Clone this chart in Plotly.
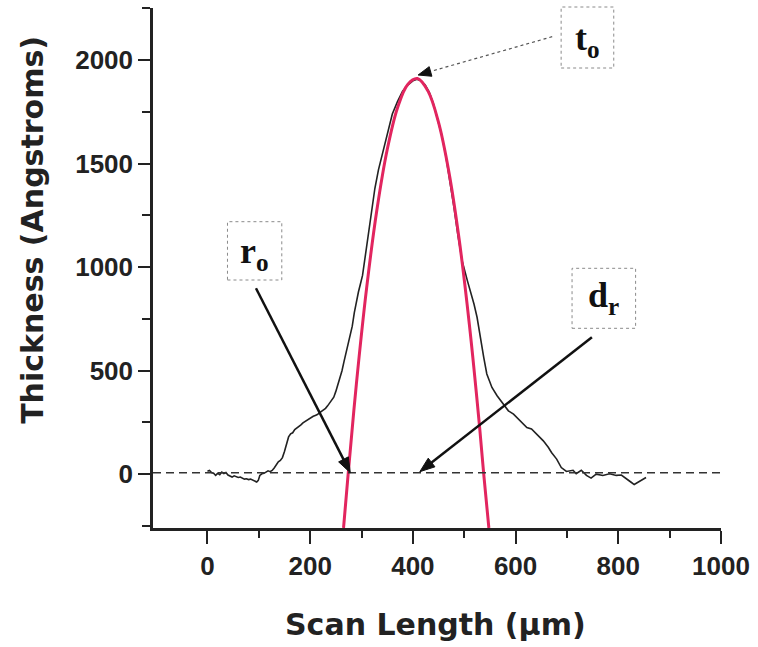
import math
import plotly.graph_objects as go

# ---- data ----
scan_x = [0, 4, 8, 12, 16, 20, 24, 28, 32, 36, 40, 44, 48, 52, 56, 60, 64, 68, 72, 76,
          80, 84, 88, 92, 96, 99, 102, 106, 110, 114, 118, 122, 126, 130, 134, 138, 142, 146,
          150, 154, 158, 162, 166, 170, 174, 178, 182, 186, 190, 194, 198, 202, 206, 210, 214,
          218, 222, 226, 230, 234, 238, 242, 246, 250, 254, 258, 262, 266, 270, 274, 278, 282,
          286, 290, 294, 298, 302, 306, 312, 319, 326, 333, 340, 350, 360, 370, 380, 390, 400,
          408, 416, 424, 432, 440, 448, 456, 464, 472, 480, 488, 496, 506, 512, 519, 525, 531,
          538, 544, 554, 564, 577, 586, 596, 609, 622, 631, 641, 654, 664, 670, 680, 689, 699,
          706, 712, 718, 728, 738, 747, 757, 770, 783, 796, 806, 815, 825, 831, 838, 848, 854]
thickness = [14, 18, 8, 5, -6, 4, -2, 10, 3, 8, -4, -10, -14, -8, -12, -16, -14, -20, -24, -22,
             -26, -24, -30, -34, -38, -30, -6, 2, 4, 10, 16, 12, 18, 30, 44, 60, 66, 80,
             110, 150, 180, 195, 200, 215, 222, 232, 238, 248, 255, 258, 268, 272, 280, 284, 288,
             296, 302, 310, 318, 330, 345, 355, 372, 400, 432, 462, 500, 545, 590, 635, 670, 715,
             780, 840, 880, 920, 960, 1030, 1140, 1260, 1380, 1470, 1540, 1650, 1740, 1800, 1850, 1880, 1900,
             1908, 1900, 1880, 1845, 1790, 1720, 1640, 1540, 1420, 1290, 1150, 1030, 936, 887, 822, 758, 661,
             564, 484, 419, 379, 339, 306, 290, 258, 225, 218, 193, 161, 129, 105, 73, 32, 13,
             16, 19, 2, 19, -6, -19, 0, -6, 2, -6, -4, -19, -39, -50, -39, -23, -16]

fit_x = [265, 274, 290, 310, 330, 350, 370, 390, 409, 430, 450, 470, 490, 510, 530, 538, 548]
fit_y = [-260, 0, 435, 900, 1277, 1567, 1769, 1883, 1911, 1848, 1699, 1462, 1137, 724, 226, 0, -260]

baseline_y = 7
x_range = [-106, 1000]
y_range = [-260, 2252]
x_tickvals = [0, 200, 400, 600, 800, 1000]
y_tickvals = [0, 500, 1000, 1500, 2000]

# ---- layout geometry (pixels) ----
W, H = 758, 647
L, R, T, B = 153, 33, 8, 119
PW, PH = W - L - R, H - T - B


def fx(p):
    return (p - L) / PW


def fy(p):
    return (T + PH - p) / PH


def arrow(tail, tip, head_len, head_w, width, dash="solid", color="#111111"):
    dx, dy = tip[0] - tail[0], tip[1] - tail[1]
    n = math.hypot(dx, dy)
    ux, uy = dx / n, dy / n
    bx, by = tip[0] - ux * head_len, tip[1] - uy * head_len
    px_, py_ = -uy, ux
    p1 = (bx + px_ * head_w / 2, by + py_ * head_w / 2)
    p2 = (bx - px_ * head_w / 2, by - py_ * head_w / 2)
    line = dict(type="line", xref="paper", yref="paper",
                x0=fx(tail[0]), y0=fy(tail[1]), x1=fx(bx + ux * 2), y1=fy(by + uy * 2),
                line=dict(color=color, width=width, dash=dash))
    path = "M {:.5f} {:.5f} L {:.5f} {:.5f} L {:.5f} {:.5f} Z".format(
        fx(tip[0]), fy(tip[1]), fx(p1[0]), fy(p1[1]), fx(p2[0]), fy(p2[1]))
    head = dict(type="path", xref="paper", yref="paper", path=path,
                fillcolor="#111111", line=dict(color="#111111", width=1))
    return [line, head]


fig = go.Figure()
fig.add_trace(go.Scatter(x=scan_x, y=thickness, mode="lines",
                         line=dict(color="#222222", width=1.6), showlegend=False))
fig.add_trace(go.Scatter(x=fit_x, y=fit_y, mode="lines",
                         line=dict(color="#e2255f", width=3, shape="spline", smoothing=1.0),
                         showlegend=False))

shapes = [
    dict(type="line", xref="paper", x0=0, x1=1, yref="y", y0=baseline_y, y1=baseline_y,
         line=dict(color="#333333", width=1.5, dash="8px,5px")),
]
shapes += arrow((256.7, 288.3), (351.7, 472.7), 15, 11, 2.5)
shapes += arrow((595, 337.3), (421.7, 471.7), 15, 11, 2.5)
shapes += arrow((555, 36.7), (420, 75), 13, 10, 1.2, dash="dot", color="#555555")

boxes = [(564, 7, 617, 68), (228, 221.7, 282.7, 280), (575, 268.3, 639, 328.3)]
for (x0, y0, x1, y1) in boxes:
    shapes.append(dict(type="rect", xref="paper", yref="paper", x0=fx(x0), x1=fx(x1),
                       y0=fy(y1), y1=fy(y0), line=dict(color="#8a8a8a", width=1, dash="dot")))

lab_font = dict(family="Liberation Serif, Times New Roman, serif", size=36, color="#111111")
title_font = dict(family="DejaVu Sans, Liberation Sans, Arial, sans-serif", size=30,
                  color="#222222", weight="bold")
annotations = [
    dict(text="<b>t</b><sub><b>o</b></sub>", x=fx(590.5), y=fy(40), xref="paper", yref="paper",
         showarrow=False, font=lab_font, xanchor="center", yanchor="middle"),
    dict(text="<b>r</b><sub><b>o</b></sub>", x=fx(255.5), y=fy(253), xref="paper", yref="paper",
         showarrow=False, font=lab_font, xanchor="center", yanchor="middle"),
    dict(text="<b>d</b><sub><b>r</b></sub>", x=fx(607), y=fy(297), xref="paper", yref="paper",
         showarrow=False, font=lab_font, xanchor="center", yanchor="middle"),
    # axis titles
    dict(text="Thickness (Angstroms)", x=fx(31), y=fy(230), xref="paper", yref="paper",
         showarrow=False, textangle=-90, xanchor="center", yanchor="middle", font=title_font),
    dict(text="Scan Length (\u03bcm)", x=fx(437), y=fy(624), xref="paper", yref="paper",
         showarrow=False, xanchor="center", yanchor="middle", font=title_font),
]

tick_font = dict(family="Liberation Sans, Arial, sans-serif", size=26, color="#222222",
                 weight="bold")
fig.update_layout(
    width=W, height=H, margin=dict(l=L, r=R, t=T, b=B, pad=0),
    paper_bgcolor="white", plot_bgcolor="white",
    shapes=shapes, annotations=annotations,
    xaxis=dict(range=x_range, tickvals=x_tickvals, ticks="outside", ticklen=13, tickwidth=2,
               tickcolor="#222222", showline=True, linewidth=2.5, linecolor="#222222",
               showgrid=False, zeroline=False, tickfont=tick_font,
               minor=dict(tickvals=[100, 300, 500, 700, 900], ticks="outside", ticklen=7,
                          tickwidth=2, tickcolor="#222222")),
    yaxis=dict(range=y_range, tickvals=y_tickvals, ticks="outside", ticklen=12, tickwidth=2,
               tickcolor="#222222", showline=True, linewidth=2.5, linecolor="#222222",
               showgrid=False, zeroline=False, tickfont=tick_font,
               minor=dict(tickvals=[-250, 250, 750, 1250, 1750, 2250], ticks="outside", ticklen=8,
                          tickwidth=2, tickcolor="#222222")),
)

fig.write_html("out.html")
